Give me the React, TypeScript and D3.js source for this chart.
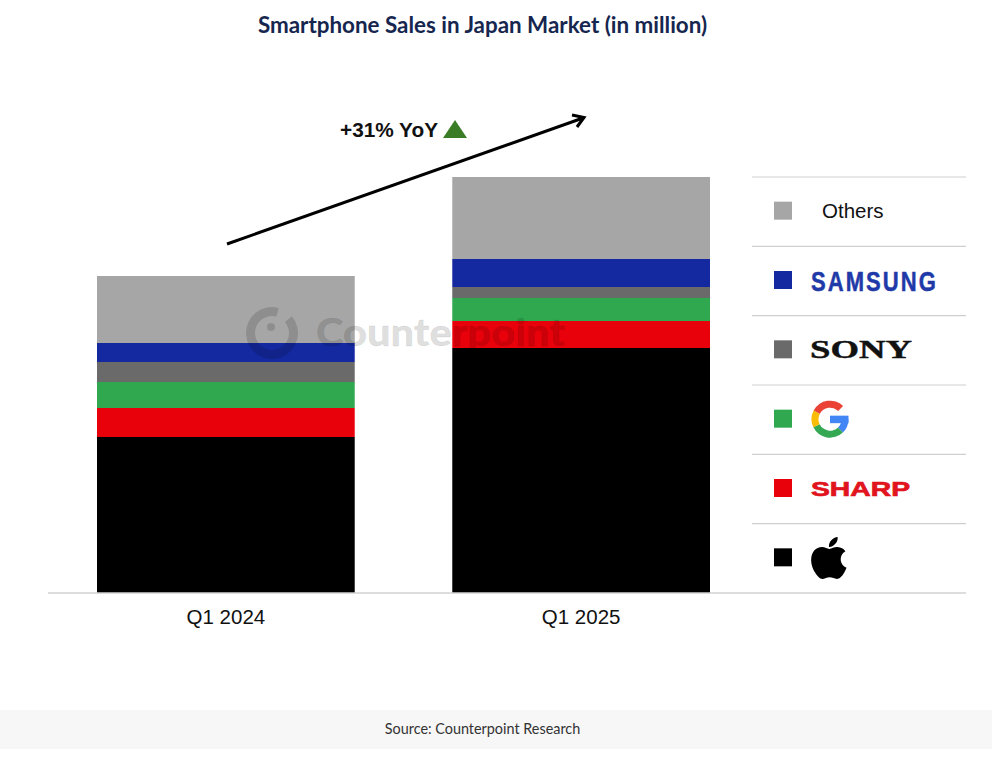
import { useEffect, useRef } from "react";
import * as d3 from "d3";

const quarters = ["Q1 2024", "Q1 2025"];
const brands = ["apple", "sharp", "google", "sony", "samsung", "others"];
const legendOrder = ["others", "samsung", "sony", "google", "sharp", "apple"];

// estimated, no axis in the picture (in million)
const apple = [3.12, 4.9];
const sharp = [0.58, 0.54];
const google = [0.52, 0.46];
const sony = [0.4, 0.22];
const samsung = [0.38, 0.56];
const others = [1.34, 1.64];

const colors = {
  apple: "#000000",
  sharp: "#e8000a",
  google: "#2fa84f",
  sony: "#6a6a6a",
  samsung: "#1428a0",
  others: "#a6a6a6",
};

const applePath =
  "M17.05 20.28c-.98.95-2.05.8-3.08.35-1.09-.46-2.09-.48-3.24 0-1.44.62-2.2.44-3.06-.35C2.79 15.25 3.51 7.59 9.05 7.31c1.35.07 2.29.74 3.08.8 1.18-.24 2.31-.93 3.57-.84 1.51.12 2.65.72 3.4 1.8-3.12 1.87-2.38 5.98.48 7.13-.57 1.5-1.31 2.99-2.54 4.09zM12.03 7.25c-.15-2.23 1.66-4.07 3.74-4.25.29 2.58-2.34 4.5-3.74 4.25z";

const App = () => {
  const ref = useRef<SVGSVGElement>(null);

  useEffect(() => {
    const svg = d3.select(ref.current);
    svg.selectAll("*").remove();

    const rows = quarters.map((q, i) => ({
      quarter: q,
      apple: apple[i],
      sharp: sharp[i],
      google: google[i],
      sony: sony[i],
      samsung: samsung[i],
      others: others[i],
    }));

    const x = d3.scaleBand().domain(quarters).range([97, 710]).paddingInner(0.2746);
    const y = d3.scaleLinear().domain([0, 10]).range([593, 93]);

    // title
    svg
      .append("text")
      .attr("x", 482.5)
      .attr("y", 32.5)
      .attr("text-anchor", "middle")
      .attr("font-family", "Lato")
      .attr("font-weight", 700)
      .attr("font-size", 22.4)
      .attr("fill", "#16264f")
      .text("Smartphone Sales in Japan Market (in million)");

    // stacked bars
    const series = d3.stack().keys(brands)(rows);
    series.forEach((s) => {
      svg
        .append("g")
        .attr("fill", colors[s.key])
        .selectAll("rect")
        .data(s)
        .join("rect")
        .attr("x", (d) => x(d.data.quarter))
        .attr("width", x.bandwidth())
        .attr("y", (d) => y(d[1]))
        .attr("height", (d) => y(d[0]) - y(d[1]));
    });

    // baseline + quarter labels
    const axis = svg
      .append("g")
      .attr("transform", "translate(0,593)")
      .call(d3.axisBottom(x).tickSize(0).tickPadding(16));
    axis.select(".domain").remove();
    axis
      .selectAll("text")
      .attr("font-family", "Liberation Sans")
      .attr("font-size", 20.5)
      .attr("fill", "#111");
    svg
      .append("line")
      .attr("x1", 48)
      .attr("x2", 966)
      .attr("y1", 593)
      .attr("y2", 593)
      .attr("stroke", "#d2d2d2")
      .attr("stroke-width", 1.5);

    // legend
    const legendY = d3.scaleBand().domain(legendOrder).range([177, 593]);
    svg
      .append("line")
      .attr("x1", 752)
      .attr("x2", 966)
      .attr("y1", 177)
      .attr("y2", 177)
      .attr("stroke", "#cfcfcf")
      .attr("stroke-width", 1.2);
    legendOrder.forEach((b) => {
      const top = legendY(b);
      const mid = top + legendY.bandwidth() / 2;
      if (b != "apple") {
        svg
          .append("line")
          .attr("x1", 752)
          .attr("x2", 966)
          .attr("y1", top + legendY.bandwidth())
          .attr("y2", top + legendY.bandwidth())
          .attr("stroke", "#cfcfcf")
          .attr("stroke-width", 1.2);
      }
      svg
        .append("rect")
        .attr("x", 774)
        .attr("y", mid - 10)
        .attr("width", 18)
        .attr("height", 18)
        .attr("fill", colors[b]);

      if (b == "others") {
        svg
          .append("text")
          .attr("x", 822)
          .attr("y", mid + 6.5)
          .attr("font-family", "Liberation Sans")
          .attr("font-size", 20.5)
          .attr("fill", "#111")
          .text("Others");
      }
      if (b == "samsung") {
        svg
          .append("text")
          .attr("transform", `translate(811,${mid + 10}) scale(0.8,1)`)
          .attr("font-family", "Liberation Sans")
          .attr("font-weight", 700)
          .attr("font-size", 27.5)
          .attr("letter-spacing", 2.6)
          .attr("fill", "#1f3aa8")
          .attr("stroke", "#1f3aa8")
          .attr("stroke-width", 0.5)
          .text("SAMSUNG");
      }
      if (b == "sony") {
        svg
          .append("text")
          .attr("x", 810)
          .attr("y", mid + 8)
          .attr("font-family", "Liberation Serif")
          .attr("font-weight", 700)
          .attr("font-size", 25)
          .attr("fill", "#111")
          .attr("stroke", "#111")
          .attr("stroke-width", 0.4)
          .attr("textLength", 102)
          .attr("lengthAdjust", "spacingAndGlyphs")
          .text("SONY");
      }
      if (b == "sharp") {
        svg
          .append("text")
          .attr("x", 811)
          .attr("y", mid + 6.5)
          .attr("font-family", "Liberation Sans")
          .attr("font-weight", 700)
          .attr("font-size", 21)
          .attr("fill", "#e1141e")
          .attr("stroke", "#e1141e")
          .attr("stroke-width", 0.7)
          .attr("textLength", 99)
          .attr("lengthAdjust", "spacingAndGlyphs")
          .text("SHARP");
      }
      if (b == "google") {
        const g = svg.append("g").attr("transform", `translate(830,${mid - 0.5})`);
        const arc = d3.arc().innerRadius(11.5).outerRadius(18.5);
        const deg = Math.PI / 180;
        const parts = [
          ["#4285f4", 90, 136],
          ["#34a853", 136, 244],
          ["#fbbc05", 244, 298],
          ["#ea4335", 298, 405],
        ];
        parts.forEach((p) => {
          g.append("path")
            .attr("d", arc({ startAngle: p[1] * deg, endAngle: p[2] * deg }))
            .attr("fill", p[0]);
        });
        g.append("rect")
          .attr("x", 0)
          .attr("y", -3.5)
          .attr("width", 18.5)
          .attr("height", 7.5)
          .attr("fill", "#4285f4");
      }
      if (b == "apple") {
        svg
          .append("path")
          .attr("d", applePath)
          .attr("fill", "#000")
          .attr("transform", `translate(${810 - 3.9 * 2.33},${537 - 3 * 2.33}) scale(2.33)`);
      }
    });

    // growth arrow
    const line = d3.line();
    const arrow = svg
      .append("g")
      .attr("fill", "none")
      .attr("stroke", "#000")
      .attr("stroke-width", 3);
    arrow.append("path").attr("d", line([[227, 244], [583, 118]]));
    arrow.append("path").attr("d", line([[572, 115], [584, 117.5], [577, 127]]));

    svg
      .append("text")
      .attr("x", 340)
      .attr("y", 137)
      .attr("font-family", "Liberation Sans")
      .attr("font-weight", 700)
      .attr("font-size", 20.5)
      .attr("fill", "#111")
      .attr("textLength", 98)
      .attr("lengthAdjust", "spacingAndGlyphs")
      .text("+31% YoY");
    svg
      .append("path")
      .attr("d", line([[443, 138], [467, 138], [455, 120]]) + "Z")
      .attr("fill", "#3a7d26");

    // watermark
    const mark = svg.append("g").attr("fill", "#000").attr("fill-opacity", 0.14);
    mark
      .append("path")
      .attr("transform", "translate(272,333)")
      .attr(
        "d",
        d3.arc().innerRadius(17).outerRadius(26)({
          startAngle: (50 * Math.PI) / 180,
          endAngle: (375 * Math.PI) / 180,
        })
      );
    mark.append("circle").attr("cx", 271).attr("cy", 327).attr("r", 4);
    mark
      .append("text")
      .attr("x", 316)
      .attr("y", 346)
      .attr("font-family", "Lato")
      .attr("font-weight", 900)
      .attr("font-size", 38)
      .attr("stroke", "#000")
      .attr("stroke-opacity", 0.06)
      .attr("textLength", 249)
      .attr("lengthAdjust", "spacingAndGlyphs")
      .text("Counterpoint");

    // source band
    svg
      .append("rect")
      .attr("x", 0)
      .attr("y", 710)
      .attr("width", 992)
      .attr("height", 39)
      .attr("fill", "#f7f7f7");
    svg
      .append("text")
      .attr("x", 482.5)
      .attr("y", 734)
      .attr("text-anchor", "middle")
      .attr("font-family", "Lato")
      .attr("font-size", 14.4)
      .attr("fill", "#333")
      .text("Source: Counterpoint Research");
  }, []);

  return (
    <svg
      ref={ref}
      width={992}
      height={762}
      style={{ position: "absolute", left: 0, top: 0, background: "#fff" }}
    />
  );
};

export default App;
